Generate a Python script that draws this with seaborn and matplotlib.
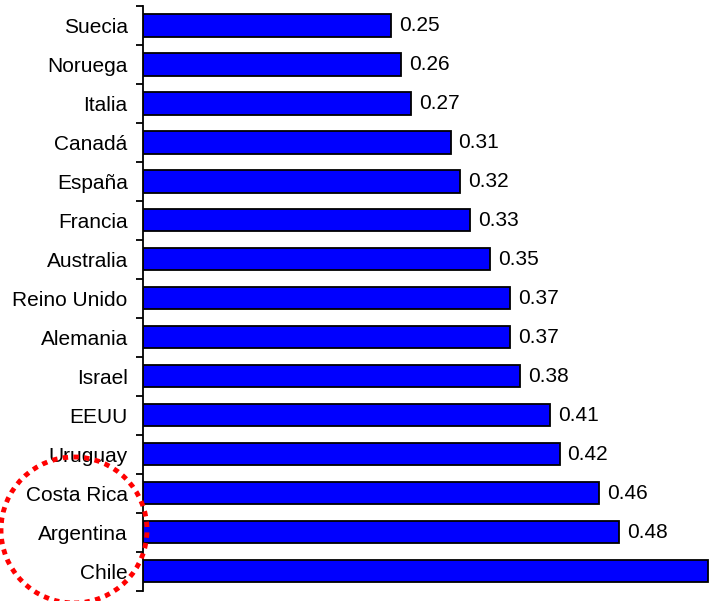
import matplotlib
matplotlib.use("Agg")
import matplotlib.pyplot as plt
from matplotlib.patches import Ellipse
from matplotlib.ticker import FixedLocator
import seaborn as sns
import pandas as pd

paises = ["Suecia", "Noruega", "Italia", "Canadá", "España", "Francia", "Australia",
          "Reino Unido", "Alemania", "Israel", "EEUU", "Uruguay", "Costa Rica",
          "Argentina", "Chile"]
valores = [0.25, 0.26, 0.27, 0.31, 0.32, 0.33, 0.35, 0.37, 0.37, 0.38, 0.41, 0.42,
           0.46, 0.48, 0.57]
etiquetas = ["0.25", "0.26", "0.27", "0.31", "0.32", "0.33", "0.35", "0.37", "0.37",
             "0.38", "0.41", "0.42", "0.46", "0.48", ""]

df = pd.DataFrame({"pais": paises, "valor": valores})

sns.set_style("white")
plt.rcParams["font.family"] = ["Liberation Sans", "DejaVu Sans"]
plt.rcParams["text.color"] = "black"
plt.rcParams["ytick.color"] = "black"
plt.rcParams["ytick.labelcolor"] = "black"

fig = plt.figure(figsize=(7.13, 6.01), dpi=100)
ax = fig.add_axes([143 / 713, 10.3 / 601, 570 / 713, 584.7 / 601])

sns.barplot(data=df, x="valor", y="pais", orient="h", color="#0000FF",
            edgecolor="black", linewidth=1.3, width=0.57, saturation=1, ax=ax)

for p, (v, t) in enumerate(zip(valores, etiquetas)):
    if t:
        ax.text(v + 0.008, p, t, va="center", ha="left", fontsize=15, color="black")

ax.set_xlim(0, 570 / 992)
ax.set_ylim(len(paises) - 0.5, -0.5)
ax.set_xlabel("")
ax.set_ylabel("")
ax.set_xticks([])
for s in ["top", "right", "bottom"]:
    ax.spines[s].set_visible(False)
ax.spines["left"].set_linewidth(1.3)
ax.spines["left"].set_color("black")

ax.tick_params(axis="y", which="major", length=0, pad=11, labelsize=15,
               labelcolor="black")
ax.yaxis.set_minor_locator(FixedLocator([i - 0.5 for i in range(len(paises) + 1)]))
ax.tick_params(axis="y", which="minor", length=5, width=1.3, color="black", left=True)

circulo = Ellipse((74 / 713, 1 - 530 / 601), 146 / 713, 146 / 601,
                  transform=fig.transFigure, fill=False, edgecolor="#FF0000",
                  linewidth=3.5, linestyle=(0, (1.1, 1.1)), clip_on=False)
fig.patches.append(circulo)

fig.savefig("out.png", dpi=100)
